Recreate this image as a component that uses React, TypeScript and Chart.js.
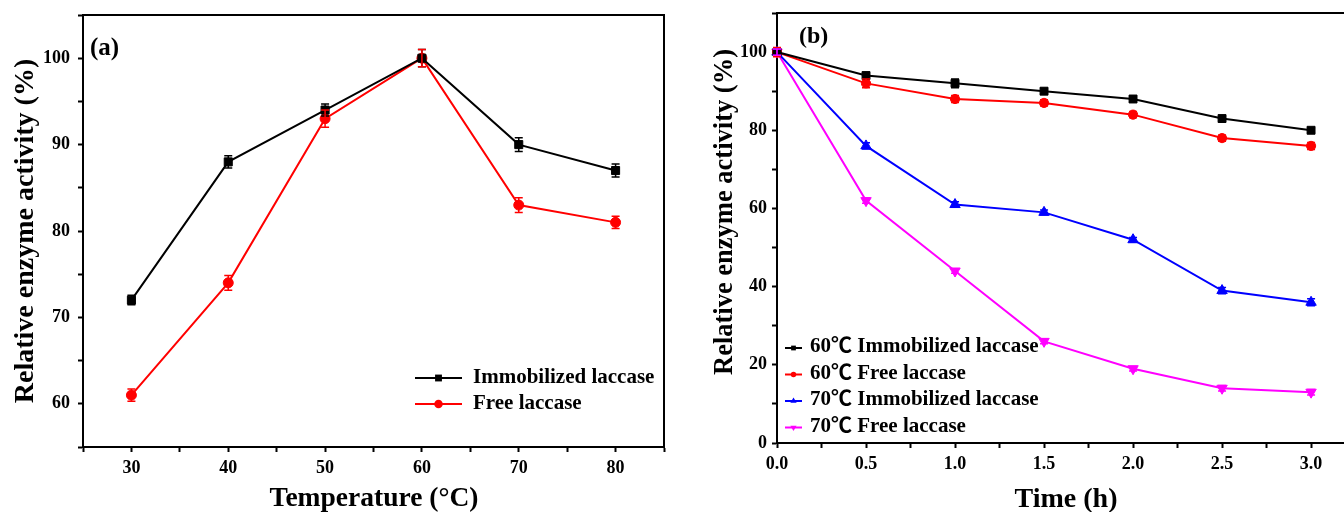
import React, { useEffect, useRef } from 'react';
import { Chart, registerables } from 'chart.js';

Chart.register(...registerables);

const FONT = "'Liberation Serif', 'Times New Roman', 'DejaVu Serif', serif";
const LEGEND_FONT_B = "'Liberation Serif', 'Noto Sans CJK SC', 'DejaVu Serif', serif";

// ---------- Panel (a): temperature ----------
const temperatures = [30, 40, 50, 60, 70, 80];
const immobilizedTemp = [72, 88, 94, 100, 90, 87];
const immobilizedTempErr = [0.55, 0.7, 0.7, 1.0, 0.8, 0.75];
const freeTemp = [61, 74, 93, 100, 83, 81];
const freeTempErr = [0.7, 0.85, 1.0, 1.0, 0.85, 0.7];
const tempTickLabels = [30, 40, 50, 60, 70, 80];
const activityTickLabelsA = [60, 70, 80, 90, 100];

// ---------- Panel (b): time ----------
const times = [0, 0.5, 1.0, 1.5, 2.0, 2.5, 3.0];
const imm60 = [100, 94, 92, 90, 88, 83, 80];
const imm60Err = [1.0, 0.8, 1.1, 0.7, 0.7, 0.6, 0.6];
const free60 = [100, 92, 88, 87, 84, 78, 76];
const free60Err = [1.2, 1.1, 0.9, 0.8, 0.8, 0.8, 0.9];
const imm70 = [100, 76, 61, 59, 52, 39, 36];
const imm70Err = [0.8, 0.8, 0.7, 0.6, 0.6, 0.8, 0.9];
const free70 = [100, 62, 44, 26, 19, 14, 13];
const free70Err = [0.8, 0.7, 0.6, 0.6, 0.6, 0.7, 0.7];
const timeTickLabels = [0, 0.5, 1.0, 1.5, 2.0, 2.5, 3.0];
const timeTickMarks = [0, 0.25, 0.5, 0.75, 1.0, 1.25, 1.5, 1.75, 2.0, 2.25, 2.5, 2.75, 3.0];
const activityTickLabelsB = [0, 20, 40, 60, 80, 100];

const seriesLabelsA = ['Immobilized laccase', 'Free laccase'];
const seriesLabelsB = [
  '60\u2103 Immobilized laccase',
  '60\u2103 Free laccase',
  '70\u2103 Immobilized laccase',
  '70\u2103 Free laccase',
];

const pts = (xs: number[], ys: number[]) => xs.map((x, i) => ({ x, y: ys[i] }));

function drawMarker(ctx: CanvasRenderingContext2D, style: string, x: number, y: number, r: number, rot: number, color: string) {
  ctx.save();
  ctx.fillStyle = color;
  ctx.beginPath();
  if (style === 'rect') {
    const s = Math.SQRT1_2 * r;
    ctx.rect(x - s, y - s, 2 * s, 2 * s);
  } else if (style === 'triangle') {
    let a = (rot * Math.PI) / 180;
    ctx.moveTo(x + Math.sin(a) * r, y - Math.cos(a) * r);
    a += (2 * Math.PI) / 3;
    ctx.lineTo(x + Math.sin(a) * r, y - Math.cos(a) * r);
    a += (2 * Math.PI) / 3;
    ctx.lineTo(x + Math.sin(a) * r, y - Math.cos(a) * r);
    ctx.closePath();
  } else {
    ctx.arc(x, y, r, 0, Math.PI * 2);
  }
  ctx.fill();
  ctx.restore();
}

const errorBarsPlugin = {
  id: 'errorBars',
  afterDatasetsDraw(chart: any) {
    const ctx = chart.ctx;
    const ys = chart.scales.y;
    chart.data.datasets.forEach((ds: any, i: number) => {
      const errs = ds.errors as number[] | undefined;
      if (!errs) return;
      const meta = chart.getDatasetMeta(i);
      ctx.save();
      ctx.strokeStyle = ds.borderColor;
      ctx.lineWidth = ds.errorWidth || 1.5;
      const cap = ds.errorCap || 4;
      meta.data.forEach((el: any, j: number) => {
        const v = ds.data[j].y;
        const e = errs[j];
        const t = ys.getPixelForValue(v + e);
        const b = ys.getPixelForValue(v - e);
        ctx.beginPath();
        ctx.moveTo(el.x, t);
        ctx.lineTo(el.x, b);
        ctx.moveTo(el.x - cap, t);
        ctx.lineTo(el.x + cap, t);
        ctx.moveTo(el.x - cap, b);
        ctx.lineTo(el.x + cap, b);
        ctx.stroke();
      });
      ctx.restore();
    });
  },
};

const framePlugin = {
  id: 'frame',
  afterDraw(chart: any, _args: any, opts: any) {
    const { left, right, top, bottom } = chart.chartArea;
    const ctx = chart.ctx;
    ctx.save();
    ctx.strokeStyle = '#000';
    ctx.lineWidth = opts.width || 2;
    ctx.beginPath();
    ctx.moveTo(left - 1, top);
    ctx.lineTo(right, top);
    if (opts.right) ctx.lineTo(right, bottom + 1);
    ctx.stroke();
    ctx.restore();
  },
};

const textsPlugin = {
  id: 'texts',
  afterDraw(chart: any, _args: any, opts: any) {
    const ctx = chart.ctx;
    (opts.items || []).forEach((it: any) => {
      ctx.save();
      ctx.fillStyle = '#000';
      ctx.font = `bold ${it.size}px ${FONT}`;
      ctx.textAlign = it.align || 'center';
      ctx.textBaseline = 'alphabetic';
      ctx.translate(it.x, it.y);
      if (it.rotate) ctx.rotate((it.rotate * Math.PI) / 180);
      ctx.fillText(it.text, 0, 0);
      ctx.restore();
    });
  },
};

const legendPlugin = {
  id: 'seriesLegend',
  afterDraw(chart: any, _args: any, opts: any) {
    const ctx = chart.ctx;
    chart.data.datasets.forEach((ds: any, i: number) => {
      const y = opts.y0 + i * opts.rowGap;
      const color = ds.borderColor;
      ctx.save();
      ctx.strokeStyle = color;
      ctx.lineWidth = opts.lineWidth || 2;
      ctx.beginPath();
      ctx.moveTo(opts.x0, y);
      ctx.lineTo(opts.x0 + opts.lineLen, y);
      ctx.stroke();
      ctx.restore();
      drawMarker(ctx, ds.pointStyle, opts.x0 + opts.lineLen / 2, y, ds.pointRadius * opts.markerScale, ds.pointRotation || 0, color);
      ctx.save();
      ctx.fillStyle = '#000';
      ctx.font = `bold ${opts.size}px ${opts.family || FONT}`;
      ctx.textAlign = 'left';
      ctx.textBaseline = 'middle';
      ctx.fillText(ds.label, opts.textX, y + (opts.textDy || 0));
      ctx.restore();
    });
  },
};

function axisCommon(extra: any) {
  return {
    type: 'linear',
    grid: { display: true, drawOnChartArea: false, drawTicks: true, tickLength: 5, tickWidth: 2, color: '#000' },
    border: { display: true, color: '#000', width: 2 },
    ...extra,
  };
}

function fixed(size: { width?: number; height?: number }) {
  return (s: any) => {
    if (size.width !== undefined) s.width = size.width;
    if (size.height !== undefined) s.height = size.height;
    s.paddingTop = 0;
    s.paddingBottom = 0;
    s.paddingLeft = 0;
    s.paddingRight = 0;
  };
}

function makeDataset(label: string, xs: number[], ys: number[], errs: number[], color: string, style: string, radius: number, rot = 0) {
  return {
    label,
    data: pts(xs, ys),
    errors: errs,
    borderColor: color,
    backgroundColor: color,
    borderWidth: 2,
    pointStyle: style,
    pointRadius: radius,
    pointRotation: rot,
    pointBackgroundColor: color,
    pointBorderColor: color,
    pointBorderWidth: 1,
    tension: 0,
    clip: false,
    errorCap: 4,
  };
}

export default function App() {
  const refA = useRef<HTMLCanvasElement>(null);
  const refB = useRef<HTMLCanvasElement>(null);

  useEffect(() => {
    Chart.defaults.font.family = FONT;
    Chart.defaults.color = '#000';

    const chartA = new Chart(refA.current as HTMLCanvasElement, {
      type: 'line',
      data: {
        datasets: [
          makeDataset(seriesLabelsA[0], temperatures, immobilizedTemp, immobilizedTempErr, '#000000', 'rect', 5.7),
          makeDataset(seriesLabelsA[1], temperatures, freeTemp, freeTempErr, '#ff0000', 'circle', 5),
        ] as any,
      },
      options: {
        responsive: false,
        animation: false,
        layout: { autoPadding: false, padding: { left: 0, top: 15, right: 8, bottom: 0 } },
        scales: {
          x: axisCommon({
            min: 25,
            max: 85,
            ticks: {
              stepSize: 5,
              autoSkip: false,
              maxRotation: 0,
              padding: 6,
              font: { size: 18, weight: 'bold' },
              callback: (v: any) => (tempTickLabels.includes(v) ? String(v) : ''),
            },
            afterFit: fixed({ height: 65 }),
          }),
          y: axisCommon({
            min: 55,
            max: 105,
            ticks: {
              stepSize: 5,
              autoSkip: false,
              padding: 8,
              font: { size: 18, weight: 'bold' },
              callback: (v: any) => (activityTickLabelsA.includes(v) ? String(v) : ''),
            },
            afterFit: fixed({ width: 83 }),
          }),
        },
        plugins: {
          legend: { display: false },
          tooltip: { enabled: false },
          frame: { width: 2, right: true },
          texts: {
            items: [
              { text: '(a)', x: 90, y: 55, size: 25, align: 'left' },
              { text: 'Temperature (\u00B0C)', x: 374, y: 506, size: 27.5 },
              { text: 'Relative enzyme activity (%)', x: 33, y: 231, size: 28, rotate: -90 },
            ],
          },
          seriesLegend: { x0: 415, lineLen: 47, textX: 473, y0: 378, rowGap: 26, size: 21, markerScale: 0.85, lineWidth: 2 },
        } as any,
      } as any,
      plugins: [errorBarsPlugin, framePlugin, textsPlugin, legendPlugin],
    });

    const xMaxB = 3.185;
    const chartB = new Chart(refB.current as HTMLCanvasElement, {
      type: 'line',
      data: {
        datasets: [
          makeDataset(seriesLabelsB[0], times, imm60, imm60Err, '#000000', 'rect', 5.6),
          makeDataset(seriesLabelsB[1], times, free60, free60Err, '#ff0000', 'circle', 4.6),
          makeDataset(seriesLabelsB[2], times, imm70, imm70Err, '#0000ff', 'triangle', 6),
          makeDataset(seriesLabelsB[3], times, free70, free70Err, '#ff00ff', 'triangle', 6, 180),
        ] as any,
      },
      options: {
        responsive: false,
        animation: false,
        layout: { autoPadding: false, padding: { left: 0, top: 13, right: 0, bottom: 0 } },
        scales: {
          x: axisCommon({
            min: 0,
            max: xMaxB,
            ticks: {
              stepSize: 0.25,
              autoSkip: false,
              maxRotation: 0,
              padding: 6,
              font: { size: 18, weight: 'bold' },
              callback: (v: any) => (timeTickLabels.some((t) => Math.abs(t - v) < 1e-6) ? Number(v).toFixed(1) : ''),
            },
            afterBuildTicks: (s: any) => {
              s.ticks = timeTickMarks.map((value) => ({ value }));
            },
            afterFit: fixed({ height: 69 }),
          }),
          y: axisCommon({
            min: 0,
            max: 110,
            ticks: {
              stepSize: 10,
              autoSkip: false,
              padding: 5,
              font: { size: 18, weight: 'bold' },
              callback: (v: any) => (activityTickLabelsB.includes(v) ? String(v) : ''),
            },
            afterFit: fixed({ width: 97 }),
          }),
        },
        plugins: {
          legend: { display: false },
          tooltip: { enabled: false },
          frame: { width: 2, right: false },
          texts: {
            items: [
              { text: '(b)', x: 119, y: 43, size: 24, align: 'left' },
              { text: 'Time (h)', x: 386, y: 507, size: 28 },
              { text: 'Relative enzyme activity (%)', x: 52, y: 212, size: 26.5, rotate: -90 },
            ],
          },
          seriesLegend: { x0: 105, lineLen: 17, textX: 130, y0: 348, rowGap: 26.5, size: 21, family: LEGEND_FONT_B, markerScale: 0.6, lineWidth: 2, textDy: -1 },
        } as any,
      } as any,
      plugins: [errorBarsPlugin, framePlugin, textsPlugin, legendPlugin],
    });

    return () => {
      chartA.destroy();
      chartB.destroy();
    };
  }, []);

  return (
    <div style={{ position: 'fixed', left: 0, top: 0, width: 1344, height: 512, background: '#fff', overflow: 'hidden' }}>
      <canvas ref={refA} width={672} height={512} style={{ position: 'absolute', left: 0, top: 0, display: 'block' }} />
      <canvas ref={refB} width={664} height={512} style={{ position: 'absolute', left: 680, top: 0, display: 'block' }} />
    </div>
  );
}
